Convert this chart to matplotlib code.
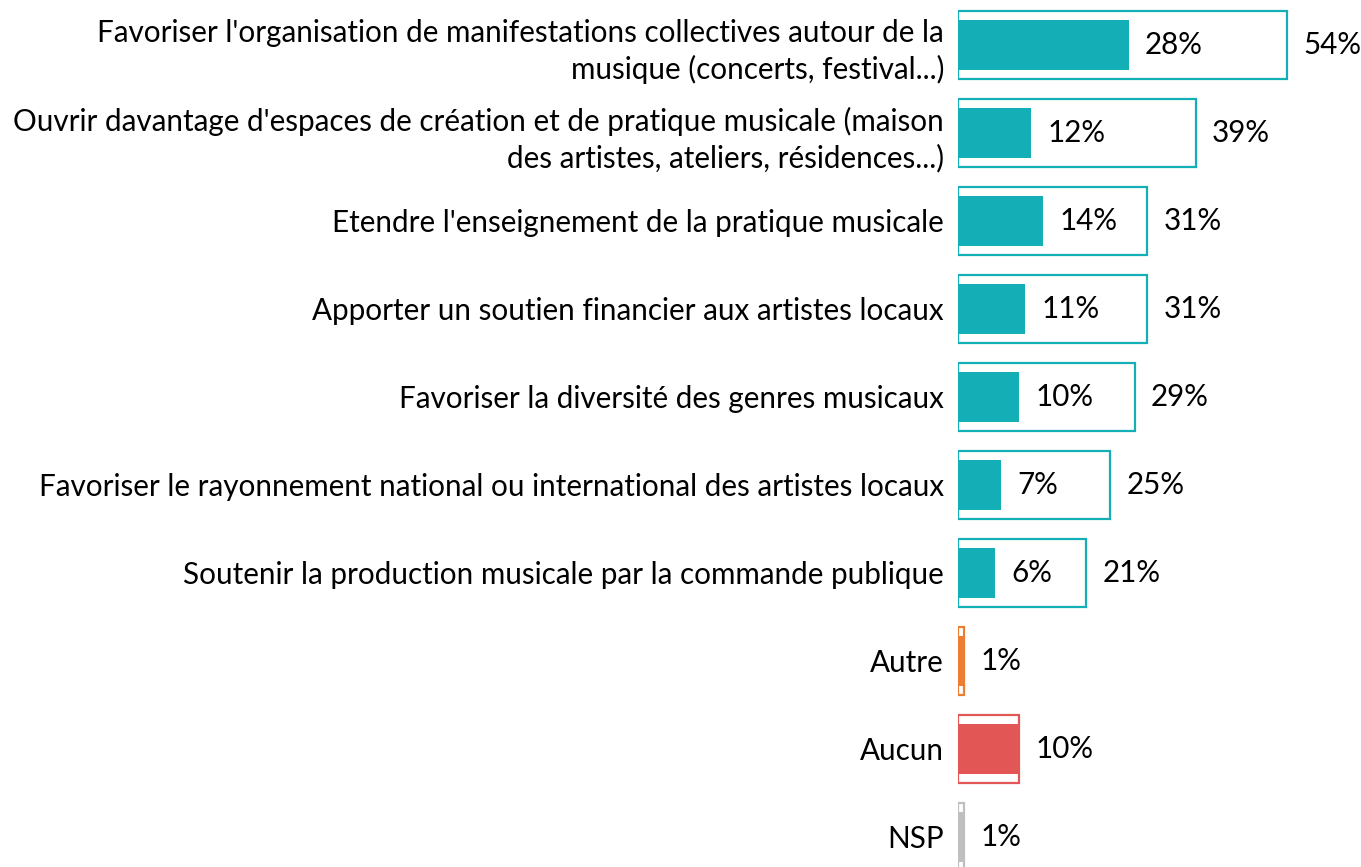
import matplotlib
matplotlib.use("Agg")
import matplotlib.pyplot as plt

categories = [
    "Favoriser l'organisation de manifestations collectives autour de la\nmusique (concerts, festival...)",
    "Ouvrir davantage d'espaces de création et de pratique musicale (maison\ndes artistes, ateliers, résidences...)",
    "Etendre l'enseignement de la pratique musicale",
    "Apporter un soutien financier aux artistes locaux",
    "Favoriser la diversité des genres musicaux",
    "Favoriser le rayonnement national ou international des artistes locaux",
    "Soutenir la production musicale par la commande publique",
    "Autre",
    "Aucun",
    "NSP",
]
total = [54, 39, 31, 31, 29, 25, 21, 1, 10, 1]
first = [28, 12, 14, 11, 10, 7, 6, 1, 10, 1]
teal = "#14AFB6"
colors = [teal] * 7 + ["#ED7D31", "#E25656", "#BFBFBF"]
show_first_label = [True] * 7 + [False] * 3

plt.rcParams['font.family'] = ['Lato', 'DejaVu Sans']
W, H = 1361, 867
fig = plt.figure(figsize=(W / 100, H / 100), dpi=100)
ax = fig.add_axes([958 / W, (H - 881) / H, 402 / W, 880 / H])

FS = 21.3
n = len(categories)
ys = list(range(n))
for i in ys:
    ax.barh(i, total[i], height=0.77, facecolor="white", edgecolor=colors[i], linewidth=1.6)
    ax.barh(i, first[i], height=0.56, color=colors[i], linewidth=0)
    if show_first_label[i]:
        ax.text(first[i] + 2.7, i, f"{first[i]}%", va="center", ha="left", fontsize=FS)
    ax.text(total[i] + 2.7, i, f"{total[i]}%", va="center", ha="left", fontsize=FS)

ax.set_xlim(0, 66)
ax.set_ylim(n - 0.5, -0.5)
ax.set_yticks(ys)
ax.set_yticklabels(categories, fontsize=FS, linespacing=1.32)
for lab in ax.get_yticklabels():
    lab.set_horizontalalignment("right")
    lab.set_multialignment("right")
ax.tick_params(axis="y", length=0, pad=10)
ax.set_xticks([])
for s in ax.spines.values():
    s.set_visible(False)

fig.savefig("out.png", dpi=100)
